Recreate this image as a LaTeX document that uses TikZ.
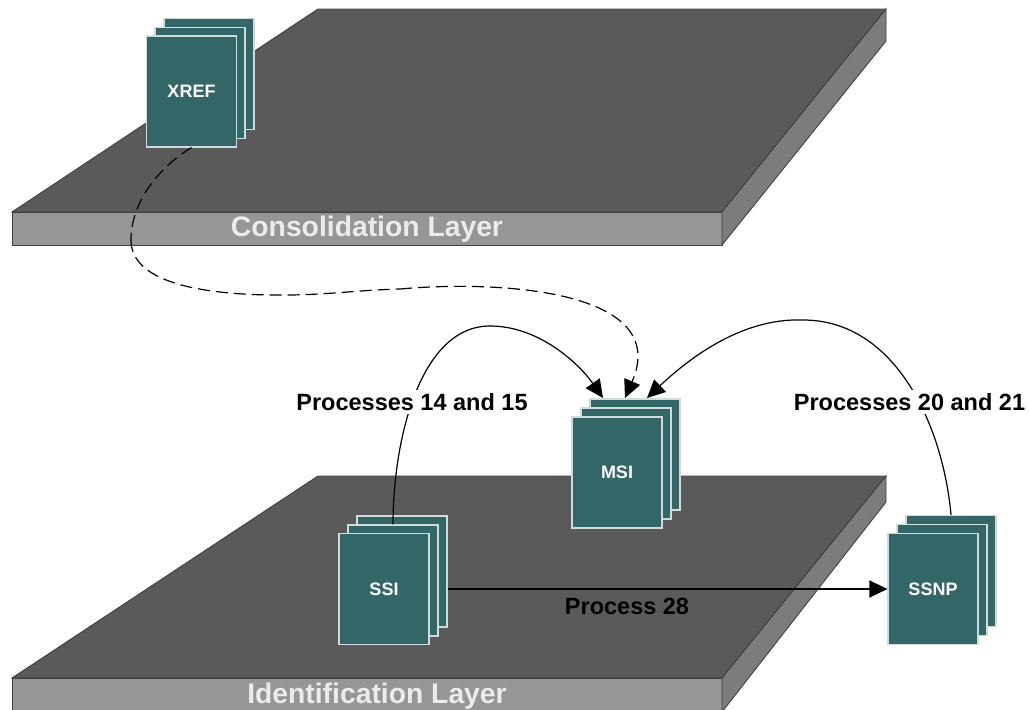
\documentclass[tikz,border=0pt]{standalone}
\usepackage{fontspec}
\setmainfont{Liberation Sans}
\usetikzlibrary{arrows.meta}
\definecolor{topface}{HTML}{5A5A5A}
\definecolor{frontface}{HTML}{969696}
\definecolor{sideface}{HTML}{7C7C7C}
\definecolor{pagefill}{HTML}{336666}
\definecolor{pageedge}{HTML}{D0DCDC}
\tikzset{>={Triangle[length=18pt,width=17pt]}}
\tikzset{page/.style={draw=pageedge, fill=pagefill, line width=1.1pt, minimum width=90pt, minimum height=111pt, inner sep=0pt, text=white, font=\bfseries\fontsize{18}{21}\selectfont}}
\tikzset{plate/.style={draw=black!75, line width=0.9pt}}
\tikzset{layer/.style={inner sep=0pt, text=white!92!black, font=\bfseries\fontsize{28.3}{32}\selectfont}}
\tikzset{lab/.style={inner sep=3pt, font=\bfseries\fontsize{23.5}{27}\selectfont}}
\tikzset{con/.style={draw=black, line width=1.2pt}}
\tikzset{dashcon/.style={con, dash pattern=on 12pt off 6pt}}

\begin{document}
\begin{tikzpicture}[x=1pt, y=-1pt]
\useasboundingbox (0, 0) rectangle (1029, 710);

\draw[plate, fill=topface] (12, 212) -- (318, 9) -- (886, 9) -- (722, 212) -- cycle;
\draw[plate, fill=frontface] (12, 212) rectangle (722, 245);
\draw[plate, fill=sideface] (722, 212) -- (886, 9) -- (886, 41) -- (722, 245) -- cycle;
\node[layer] (cons) at (367, 229.5) {Consolidation Layer};

\draw[plate, fill=topface] (12, 678) -- (318, 476) -- (886, 476) -- (722, 678) -- cycle;
\draw[plate, fill=frontface] (12, 678) rectangle (722, 712);
\draw[plate, fill=sideface] (722, 678) -- (886, 476) -- (886, 502) -- (722, 712) -- cycle;
\node[layer] (ident) at (377, 696.5) {Identification Layer};

\node[page] (xrefc) at (209, 74) {};
\node[page] (xrefb) at (200, 83) {};
\node[page] (xref) at (191.5, 91.5) {XREF};

\node[page] (msic) at (635, 454.5) {};
\node[page] (msib) at (626, 463.5) {};
\node[page] (msi) at (617, 472.5) {MSI};

\node[page] (ssic) at (402, 571.5) {};
\node[page] (ssib) at (393, 580.5) {};
\node[page] (ssi) at (384, 589) {SSI};

\node[page] (ssnpc) at (951, 571) {};
\node[page] (ssnpb) at (942, 580) {};
\node[page] (ssnp) at (933, 589) {SSNP};

\coordinate (bend) at (131, 240);
\coordinate (low) at (400, 289);
\coordinate (msia) at (603, 398);
\coordinate (msid) at (625, 398);
\coordinate (msie) at (647, 398);

\draw[dashcon] (xref.south) .. controls (155, 170) and (131, 205) .. (bend);
\draw[dashcon] (bend) .. controls (131, 285) and (210, 296) .. (290, 295) .. controls (330, 294.5) and (360, 290) .. (low);
\draw[dashcon, ->] (low) .. controls (500, 280) and (672, 290) .. (msid);

\draw[con, ->] (ssib.north) .. controls (393, 440) and (420, 326) .. (490, 326) .. controls (540, 326) and (580, 365) .. (msia);
\draw[con, ->] (ssnpc.north) .. controls (943, 425) and (895, 320) .. (803, 320) .. controls (750, 318) and (700, 348) .. (msie);
\draw[con, ->] (ssi.east -| ssic.east) -- (ssi.east -| ssnp.west);

\node[lab, fill=white] (p1415) at (412, 402) {Processes 14 and 15};
\node[lab, fill=white] (p2021) at (909.5, 402) {Processes 20 and 21};
\node[lab] (p28) at (627, 606) {Process 28};
\end{tikzpicture}
\end{document}
